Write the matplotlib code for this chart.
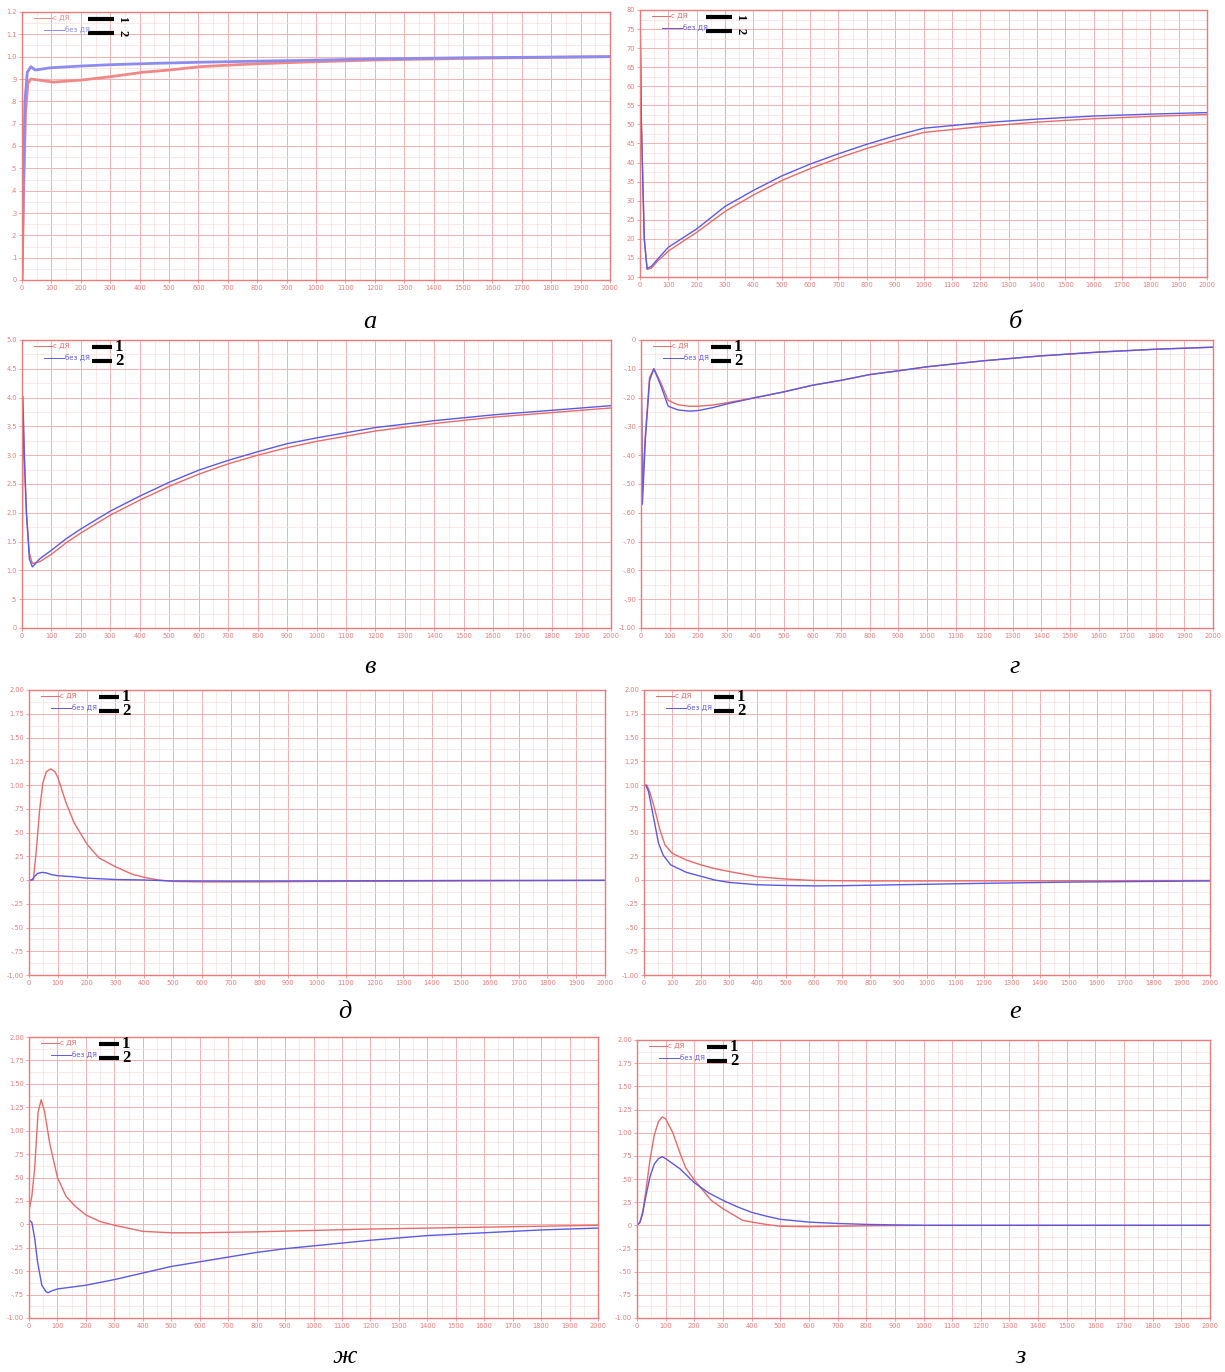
import numpy as np
import matplotlib.pyplot as plt
from matplotlib.ticker import MultipleLocator, FuncFormatter

W, H = 1225, 1372

# panel а
a_x_red = [0, 5, 12, 20, 30, 60, 105, 200, 300, 410, 500, 605, 700, 800, 945, 1200, 1500, 1800, 2000]
a_red = [0.0, 0.35, 0.75, 0.88, 0.90, 0.895, 0.886, 0.895, 0.91, 0.93, 0.94, 0.955, 0.962, 0.968, 0.975, 0.985, 0.992, 0.997, 1.0]
a_x_blue = [0, 4, 10, 18, 30, 45, 95, 200, 300, 450, 605, 800, 945, 1200, 1500, 1800, 2000]
a_blue = [0.0, 0.4, 0.8, 0.93, 0.955, 0.94, 0.95, 0.958, 0.964, 0.97, 0.975, 0.98, 0.983, 0.99, 0.995, 0.998, 1.0]

# panel б
b_x = [0, 5, 15, 25, 40, 60, 100, 150, 200, 300, 400, 500, 600, 700, 800, 900, 1000,
       1200, 1400, 1600, 1800, 2000]
b_blue = [80, 50, 20, 12.2, 12.8, 14.5, 17.8, 20.2, 22.6, 28.5, 32.7, 36.5, 39.6, 42.3,
          44.8, 47.0, 49.0, 50.4, 51.4, 52.2, 52.7, 53.1]
b_red = [80, 50, 20, 12.0, 12.3, 14.0, 16.8, 19.3, 21.7, 27.2, 31.5, 35.3, 38.4, 41.2,
         43.7, 45.9, 47.9, 49.4, 50.6, 51.5, 52.1, 52.6]

# panel в
c_x = [0, 3, 8, 15, 25, 35, 60, 100, 150, 200, 300, 400, 500, 600, 700, 800, 900, 1000,
       1200, 1400, 1600, 1800, 2000]
c_blue = [0.0, 4.02, 3.0, 2.0, 1.2, 1.06, 1.2, 1.35, 1.55, 1.72, 2.03, 2.29, 2.53, 2.74,
          2.91, 3.06, 3.2, 3.3, 3.48, 3.6, 3.7, 3.78, 3.86]
c_red = [1.8, 3.8, 2.9, 2.0, 1.3, 1.12, 1.15, 1.28, 1.48, 1.65, 1.96, 2.22, 2.46, 2.67,
         2.85, 3.0, 3.13, 3.24, 3.42, 3.55, 3.66, 3.74, 3.82]

# panel г
d_x = [0, 5, 15, 30, 45, 70, 95, 130, 170, 200, 250, 300, 400, 500, 600, 700, 800, 900,
       1000, 1200, 1400, 1600, 1800, 2000]
d_blue = [0.0, -0.57, -0.35, -0.14, -0.10, -0.16, -0.23, -0.243, -0.247, -0.245, -0.235,
          -0.222, -0.2, -0.18, -0.157, -0.14, -0.12, -0.107, -0.093, -0.072, -0.055,
          -0.042, -0.032, -0.025]
d_red = [0.0, -0.52, -0.33, -0.13, -0.10, -0.15, -0.21, -0.225, -0.23, -0.23, -0.226,
         -0.218, -0.2, -0.18, -0.157, -0.14, -0.12, -0.107, -0.093, -0.072, -0.055,
         -0.042, -0.032, -0.025]

# panel д
e_x_red = [0, 15, 25, 37, 48, 60, 75, 90, 100, 129, 157, 203, 244, 300, 359, 405, 450,
           500, 600, 800, 1000, 1500, 2000]
e_red = [0, 0.0, 0.3, 0.74, 1.02, 1.14, 1.17, 1.14, 1.08, 0.81, 0.6, 0.37, 0.23, 0.14,
         0.06, 0.025, 0.0, -0.015, -0.02, -0.02, -0.015, -0.01, -0.005]
e_x_blue = [0, 10, 20, 30, 45, 60, 80, 100, 150, 200, 300, 400, 500, 700, 1000, 1500, 2000]
e_blue = [0, 0.0, 0.04, 0.07, 0.08, 0.075, 0.055, 0.045, 0.035, 0.02, 0.005, 0.0, -0.01,
          -0.012, -0.01, -0.005, -0.003]

# panel е
f_x_red = [0, 10, 20, 33, 45, 56, 74, 100, 150, 200, 250, 300, 400, 500, 600, 800, 1000,
           1500, 2000]
f_red = [1.0, 1.0, 0.93, 0.8, 0.66, 0.53, 0.37, 0.28, 0.21, 0.16, 0.12, 0.09, 0.035,
         0.01, -0.005, -0.01, -0.01, -0.008, -0.005]
f_x_blue = [0, 8, 16, 33, 51, 68, 94, 150, 200, 250, 300, 400, 500, 600, 700, 800, 1000,
            1200, 1500, 2000]
f_blue = [1.0, 0.99, 0.93, 0.67, 0.39, 0.26, 0.16, 0.08, 0.04, 0.0, -0.025, -0.05, -0.058,
          -0.062, -0.06, -0.055, -0.045, -0.035, -0.022, -0.01]

# panel ж
g_x_red = [0, 10, 20, 32, 43, 55, 73, 100, 130, 160, 200, 250, 300, 400, 500, 600, 800,
           1000, 1200, 1400, 1600, 1800, 2000]
g_red = [0.15, 0.3, 0.6, 1.2, 1.33, 1.2, 0.86, 0.5, 0.3, 0.2, 0.1, 0.03, -0.01, -0.075,
         -0.09, -0.09, -0.08, -0.065, -0.05, -0.04, -0.03, -0.02, -0.01]
g_x_blue = [0, 10, 20, 30, 45, 60, 67, 80, 100, 150, 200, 300, 400, 500, 600, 700, 800,
            900, 1000, 1200, 1400, 1600, 1800, 2000]
g_blue = [0.05, 0.02, -0.15, -0.4, -0.65, -0.72, -0.73, -0.71, -0.69, -0.67, -0.65, -0.59,
          -0.52, -0.45, -0.40, -0.35, -0.30, -0.26, -0.23, -0.17, -0.12, -0.09, -0.06, -0.04]

# panel з
h_x_red = [0, 10, 20, 30, 45, 60, 75, 88, 100, 125, 150, 170, 200, 259, 300, 368, 400,
           450, 500, 600, 700, 800, 1000, 1500, 2000]
h_red = [0, 0.03, 0.15, 0.35, 0.7, 0.97, 1.12, 1.17, 1.15, 1.0, 0.78, 0.62, 0.49, 0.27,
         0.18, 0.055, 0.036, 0.01, -0.01, -0.015, -0.01, -0.005, 0, 0, 0]
h_x_blue = [0, 10, 20, 30, 45, 60, 75, 88, 100, 150, 200, 250, 300, 350, 400, 450, 500,
            600, 700, 800, 1000, 1500, 2000]
h_blue = [0, 0.03, 0.13, 0.3, 0.52, 0.66, 0.72, 0.74, 0.72, 0.61, 0.46, 0.35, 0.27, 0.2,
          0.14, 0.1, 0.065, 0.035, 0.02, 0.01, 0.0, 0.0, 0.0]

captions = ['а', 'б', 'в', 'г', 'д', 'е', 'ж', 'з']

# pixel boxes: left, right, top, bottom
boxes = [(22, 610, 12, 280), (640, 1207, 10, 277),
         (22, 611, 340, 628), (641, 1213, 340, 628),
         (29, 605, 690, 975), (644, 1210, 690, 975),
         (29, 598, 1037, 1318), (637, 1210, 1040, 1318)]
cap_pos = [(370, 322), (1015, 322), (370, 667), (1015, 667),
           (345, 1012), (1015, 1012), (345, 1357), (1020, 1357)]

GRID = '#f5b0b0'
MINOR = '#fbdede'
TICK = '#ec7a7a'
RED = '#e86a6a'
BLUE = '#5a5ae6'


def strip0(v, pos, nd):
    s = f'{v:.{nd}f}'
    if abs(v) < 1e-9:
        return '0'
    s = s.replace('-0.', '-.')
    if s.startswith('0.'):
        s = s[1:]
    return s


fig = plt.figure(figsize=(W / 100, H / 100), dpi=100)

ylims = [(0, 1.2, 0.1, 1), (10, 80, 5, 0), (0, 5, 0.5, 1), (-1, 0, 0.1, 2),
         (-1, 2, 0.25, 2), (-1, 2, 0.25, 2), (-1, 2, 0.25, 2), (-1, 2, 0.25, 2)]

series = [(a_x_red, a_red, a_x_blue, a_blue), (b_x, b_red, b_x, b_blue),
          (c_x, c_red, c_x, c_blue), (d_x, d_red, d_x, d_blue),
          (e_x_red, e_red, e_x_blue, e_blue), (f_x_red, f_red, f_x_blue, f_blue),
          (g_x_red, g_red, g_x_blue, g_blue), (h_x_red, h_red, h_x_blue, h_blue)]

for i, (l, r, t, b) in enumerate(boxes):
    ax = fig.add_axes([l / W, 1 - b / H, (r - l) / W, (b - t) / H])
    lo, hi, step, nd = ylims[i]
    ax.set_xlim(0, 2000)
    ax.set_ylim(lo, hi)
    ax.xaxis.set_major_locator(MultipleLocator(100))
    ax.xaxis.set_minor_locator(MultipleLocator(50))
    ax.yaxis.set_major_locator(MultipleLocator(step))
    ax.yaxis.set_minor_locator(MultipleLocator(step / 2))
    ax.yaxis.set_major_formatter(FuncFormatter(lambda v, p, nd=nd: strip0(v, p, nd)))
    ax.grid(True, which='major', color=GRID, lw=0.7)
    ax.grid(True, which='minor', color=MINOR, lw=0.5)
    ax.set_axisbelow(True)
    ax.tick_params(which='both', colors=TICK, labelsize=4.8, length=2, width=0.5, pad=1.5)
    ax.tick_params(which='minor', length=0)
    for s in ax.spines.values():
        s.set_color(TICK)
        s.set_linewidth(1.0)

    xr, yr, xb, yb = series[i]
    lw = 2.0 if i == 0 else 1.0
    red = '#f08888' if i == 0 else RED
    blue = '#8c8cf0' if i == 0 else BLUE
    ax.plot(xr, yr, color=red, lw=lw)
    ax.plot(xb, yb, color=blue, lw=lw)
    if i == 1:
        ax.axvline(300, color='#999999', lw=0.8, zorder=0.5)

    # legend block
    pw = r - l
    ph = b - t
    ax.plot([12 / pw, 30 / pw], [1 - 6 / ph, 1 - 6 / ph], transform=ax.transAxes,
            color=red, lw=0.7, clip_on=False)
    ax.text(31 / pw, 1 - 6 / ph, 'с ДЯ', transform=ax.transAxes, color=red,
            fontsize=5, va='center')
    ax.plot([22 / pw, 42 / pw], [1 - 18 / ph, 1 - 18 / ph], transform=ax.transAxes,
            color=blue, lw=0.7, clip_on=False)
    ax.text(43 / pw, 1 - 18 / ph, 'без ДЯ', transform=ax.transAxes, color=blue,
            fontsize=5, va='center')
    bx0, bx1 = (66 / pw, 92 / pw) if i < 2 else (70 / pw, 90 / pw)
    for yy in (7, 21):
        ax.plot([bx0, bx1], [1 - yy / ph, 1 - yy / ph], transform=ax.transAxes,
                color='black', lw=3.0, solid_capstyle='butt', clip_on=False)
    if i < 2:
        ax.text(bx1 + 8 / pw, 1 - 7 / ph, '1', transform=ax.transAxes, rotation=-90,
                family='Liberation Serif', weight='bold', fontsize=9, ha='center', va='center')
        ax.text(bx1 + 8 / pw, 1 - 21 / ph, '2', transform=ax.transAxes, rotation=-90,
                family='Liberation Serif', weight='bold', fontsize=9, ha='center', va='center')
    else:
        ax.text(bx1 + 3 / pw, 1 - 7 / ph, '1', transform=ax.transAxes,
                family='Liberation Serif', weight='bold', fontsize=12, va='center')
        ax.text(bx1 + 3 / pw, 1 - 21 / ph, '2', transform=ax.transAxes,
                family='Liberation Serif', weight='bold', fontsize=12, va='center')

for (cx, cy), cap in zip(cap_pos, captions):
    fig.text(cx / W, 1 - cy / H, cap, family='Liberation Serif', style='italic',
             fontsize=19, ha='center', va='center')

fig.savefig('out.png', dpi=100, facecolor='white')
